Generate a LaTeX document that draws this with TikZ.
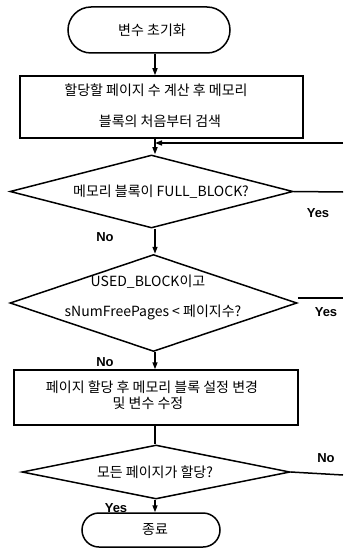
\documentclass[tikz,border=0pt]{standalone}
\usepackage{fontspec}
\setmainfont{Noto Sans CJK KR}
\newfontfamily\ynfont{Liberation Sans}
\usetikzlibrary{shapes.geometric,shapes.misc,arrows.meta}
\begin{document}
\begin{tikzpicture}[x=1pt,y=-1pt,
  line width=1.5pt,
  term/.style={draw, rounded rectangle, inner sep=0pt},
  proc/.style={draw, rectangle, inner sep=0pt},
  dia/.style={draw, diamond, inner sep=0pt},
  txt/.style={inner sep=0pt, font=\fontsize{14}{16}\selectfont},
  lbl/.style={inner sep=0pt, font=\ynfont\bfseries\fontsize{13}{15}\selectfont},
  arr/.style={-{Triangle[length=7pt,width=5pt]}}]
\useasboundingbox (0,0) rectangle (343,548);
\coordinate (line) at (155,0);
% nodes
\node[term, minimum width=162pt, minimum height=46pt] (start) at (149,30) {};
\node[txt] (startt) at (152,30) {변수 초기화};
\node[proc, minimum width=283pt, minimum height=62pt] (box1) at (161.5,107) {};
\node[txt] (b1a) at (156,90) {할당할 페이지 수 계산 후 메모리};
\node[txt] (b1b) at (160,121) {블록의 처음부터 검색};
\node[dia, minimum width=283pt, minimum height=73pt] (d1) at (151.5,191.5) {};
\node[txt] (d1t) at (161,192) {메모리 블록이 FULL\_BLOCK?};
\node[dia, minimum width=287pt, minimum height=97pt] (d2) at (153.5,303) {};
\node[txt] (d2a) at (148,282) {USED\_BLOCK이고};
\node[txt] (d2b) at (153,312) {sNumFreePages < 페이지수?};
\node[proc, minimum width=284pt, minimum height=55pt] (box2) at (156,397.5) {};
\node[txt] (b2a) at (152,387) {페이지 할당 후 메모리 블록 설정 변경};
\node[txt] (b2b) at (148,403) {및 변수 수정};
\node[dia, minimum width=268pt, minimum height=54pt] (d3) at (156,472) {};
\node[txt] (d3t) at (155,472) {모든 페이지가 할당?};
\node[term, minimum width=138pt, minimum height=34pt] (end) at (151,530) {};
\node[txt] (endt) at (155,530) {종료};
% labels
\node[lbl] (y1) at (318,213) {Yes};
\node[lbl] (n1) at (105,237) {No};
\node[lbl] (y2) at (326,312) {Yes};
\node[lbl] (n2) at (105,362) {No};
\node[lbl] (n3) at (326,458) {No};
\node[lbl] (y3) at (116,508) {Yes};
% right edge coordinates
\coordinate (in) at (343,143);
\coordinate (o1) at (343,192);
\coordinate (o2) at (343,298);
\coordinate (o3) at (343,475);
% connectors
\draw[arr] (start.south -| line) -- (box1.north -| line);
\draw[arr] (box1.south -| line) -- (d1.north -| line);
\draw[arr] (in) -- (in -| line);
\draw[arr] (d1.south -| line) -- (d2.north -| line);
\draw[arr] (d2.south -| line) -- (box2.north -| line);
\draw (box2.south -| line) -- (d3.north -| line);
\draw[arr] (d3.south -| line) -- (end.north -| line);
\draw (d1.east) -- (o1);
\draw (d2.east |- o2) -- (o2);
\draw (d3.east) -- (o3);
\end{tikzpicture}
\end{document}
